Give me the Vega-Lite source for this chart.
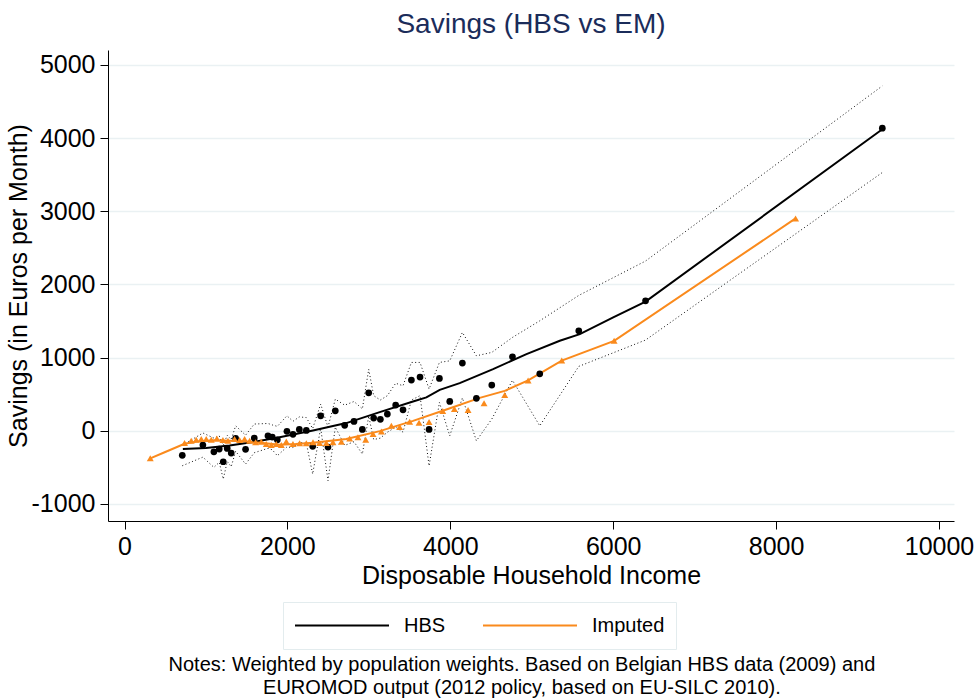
{
  "$schema": "https://vega.github.io/schema/vega-lite/v6.json",
  "background": "white",
  "padding": {"left": 6, "top": 11, "right": 0, "bottom": 0},
  "title": {
    "text": ["Notes: Weighted by population weights. Based on Belgian HBS data (2009) and", "EUROMOD output (2012 policy, based on EU-SILC 2010)."],
    "orient": "bottom",
    "anchor": "middle",
    "fontSize": 20,
    "fontWeight": "normal",
    "font": "Liberation Sans",
    "color": "black",
    "lineHeight": 23,
    "offset": 5,
    "dx": 32
  },
  "datasets": {
    "hbs": [
      {"x": 709, "y": -336, "lo": -478, "hi": -200},
      {"x": 962, "y": -195, "lo": -360, "hi": -30},
      {"x": 1097, "y": -287, "lo": -500, "hi": -100},
      {"x": 1163, "y": -250, "lo": -430, "hi": -70},
      {"x": 1212, "y": -423, "lo": -660, "hi": -200},
      {"x": 1261, "y": -241, "lo": -420, "hi": -60},
      {"x": 1310, "y": -305, "lo": -490, "hi": -120},
      {"x": 1364, "y": -104, "lo": -280, "hi": 68},
      {"x": 1486, "y": -254, "lo": -455, "hi": -60},
      {"x": 1593, "y": -100, "lo": -300, "hi": 92},
      {"x": 1761, "y": -68, "lo": -240, "hi": 100},
      {"x": 1814, "y": -86, "lo": -260, "hi": 80},
      {"x": 1876, "y": -123, "lo": -341, "hi": 60},
      {"x": 1994, "y": -8, "lo": -220, "hi": 205},
      {"x": 2068, "y": -49, "lo": -230, "hi": 130},
      {"x": 2146, "y": 19, "lo": -160, "hi": 190},
      {"x": 2232, "y": 5, "lo": -170, "hi": 180},
      {"x": 2310, "y": -213, "lo": -591, "hi": 30},
      {"x": 2408, "y": 205, "lo": 40, "hi": 365},
      {"x": 2498, "y": -223, "lo": -683, "hi": 50},
      {"x": 2588, "y": 273, "lo": 50, "hi": 433},
      {"x": 2703, "y": 74, "lo": -200, "hi": 350},
      {"x": 2817, "y": 128, "lo": -150, "hi": 400},
      {"x": 2920, "y": 19, "lo": -318, "hi": 300},
      {"x": 2998, "y": 519, "lo": 200, "hi": 840},
      {"x": 3059, "y": 173, "lo": -120, "hi": 480},
      {"x": 3141, "y": 156, "lo": -100, "hi": 420},
      {"x": 3227, "y": 228, "lo": -20, "hi": 480},
      {"x": 3329, "y": 351, "lo": 50, "hi": 650},
      {"x": 3419, "y": 287, "lo": -18, "hi": 615},
      {"x": 3522, "y": 693, "lo": 420, "hi": 934},
      {"x": 3628, "y": 734, "lo": 480, "hi": 934},
      {"x": 3739, "y": 19, "lo": -480, "hi": 570},
      {"x": 3866, "y": 716, "lo": 387, "hi": 934},
      {"x": 3993, "y": 401, "lo": -68, "hi": 956},
      {"x": 4148, "y": 925, "lo": 450, "hi": 1344},
      {"x": 4320, "y": 443, "lo": -137, "hi": 1025},
      {"x": 4509, "y": 625, "lo": 160, "hi": 1071},
      {"x": 4763, "y": 1011, "lo": 690, "hi": 1276},
      {"x": 5098, "y": 779, "lo": 68, "hi": 1503},
      {"x": 5577, "y": 1366, "lo": 880, "hi": 1850},
      {"x": 6397, "y": 1776, "lo": 1240, "hi": 2320},
      {"x": 9304, "y": 4135, "lo": 3530, "hi": 4713}
    ],
    "imp": [
      {"x": 316, "y": -377},
      {"x": 737, "y": -168},
      {"x": 819, "y": -137},
      {"x": 880, "y": -123},
      {"x": 942, "y": -113},
      {"x": 1003, "y": -113},
      {"x": 1065, "y": -123},
      {"x": 1134, "y": -104},
      {"x": 1208, "y": -127},
      {"x": 1270, "y": -137},
      {"x": 1351, "y": -113},
      {"x": 1413, "y": -127},
      {"x": 1474, "y": -113},
      {"x": 1536, "y": -137},
      {"x": 1609, "y": -158},
      {"x": 1679, "y": -150},
      {"x": 1740, "y": -182},
      {"x": 1802, "y": -195},
      {"x": 1863, "y": -182},
      {"x": 1925, "y": -195},
      {"x": 1986, "y": -145},
      {"x": 2068, "y": -182},
      {"x": 2150, "y": -172},
      {"x": 2232, "y": -172},
      {"x": 2314, "y": -158},
      {"x": 2396, "y": -168},
      {"x": 2478, "y": -168},
      {"x": 2559, "y": -158},
      {"x": 2662, "y": -150},
      {"x": 2764, "y": -104},
      {"x": 2866, "y": -90},
      {"x": 2961, "y": -123},
      {"x": 3051, "y": -45},
      {"x": 3154, "y": -10},
      {"x": 3276, "y": 68},
      {"x": 3378, "y": 50},
      {"x": 3501, "y": 123},
      {"x": 3616, "y": 110},
      {"x": 3739, "y": 120},
      {"x": 3907, "y": 271},
      {"x": 4050, "y": 296},
      {"x": 4218, "y": 283},
      {"x": 4414, "y": 376},
      {"x": 4668, "y": 490},
      {"x": 4955, "y": 688},
      {"x": 5368, "y": 960},
      {"x": 6011, "y": 1229},
      {"x": 8239, "y": 2902}
    ],
    "fit": [
      {"series": "HBS", "x": 716, "y": -250},
      {"series": "HBS", "x": 1000, "y": -235},
      {"series": "HBS", "x": 1290, "y": -200},
      {"series": "HBS", "x": 1600, "y": -150},
      {"series": "HBS", "x": 1904, "y": -88},
      {"series": "HBS", "x": 2314, "y": 5},
      {"series": "HBS", "x": 2723, "y": 105},
      {"series": "HBS", "x": 3133, "y": 255},
      {"series": "HBS", "x": 3542, "y": 400},
      {"series": "HBS", "x": 3706, "y": 456},
      {"series": "HBS", "x": 3870, "y": 560},
      {"series": "HBS", "x": 4115, "y": 652},
      {"series": "HBS", "x": 4525, "y": 843},
      {"series": "HBS", "x": 4935, "y": 1048},
      {"series": "HBS", "x": 5344, "y": 1230},
      {"series": "HBS", "x": 5590, "y": 1320},
      {"series": "HBS", "x": 6000, "y": 1549},
      {"series": "HBS", "x": 6397, "y": 1765},
      {"series": "HBS", "x": 9304, "y": 4121},
      {"series": "Imputed", "x": 316, "y": -377},
      {"series": "Imputed", "x": 500, "y": -290},
      {"series": "Imputed", "x": 737, "y": -178},
      {"series": "Imputed", "x": 900, "y": -145},
      {"series": "Imputed", "x": 1100, "y": -130},
      {"series": "Imputed", "x": 1300, "y": -135},
      {"series": "Imputed", "x": 1500, "y": -148},
      {"series": "Imputed", "x": 1700, "y": -168},
      {"series": "Imputed", "x": 1904, "y": -190},
      {"series": "Imputed", "x": 2100, "y": -182},
      {"series": "Imputed", "x": 2314, "y": -165},
      {"series": "Imputed", "x": 2723, "y": -113},
      {"series": "Imputed", "x": 3133, "y": -5},
      {"series": "Imputed", "x": 3542, "y": 135},
      {"series": "Imputed", "x": 3952, "y": 290},
      {"series": "Imputed", "x": 4361, "y": 450},
      {"series": "Imputed", "x": 4668, "y": 545},
      {"series": "Imputed", "x": 4955, "y": 690},
      {"series": "Imputed", "x": 5368, "y": 960},
      {"series": "Imputed", "x": 6011, "y": 1229},
      {"series": "Imputed", "x": 8239, "y": 2902}
    ]
  },
  "vconcat": [
    {
      "title": {
        "text": "Savings (HBS vs EM)",
        "fontSize": 28,
        "fontWeight": "normal",
        "font": "Liberation Sans",
        "color": "#1B2C5A",
        "anchor": "middle",
        "frame": "group",
        "offset": 11
      },
      "width": 846,
      "height": 471,
      "layer": [
        {
          "data": {"name": "hbs"},
          "mark": {"type": "line", "color": "#111111", "strokeWidth": 1, "strokeDash": [1, 2.5]},
          "encoding": {
            "x": {"field": "x", "type": "quantitative"},
            "y": {"field": "hi", "type": "quantitative"},
            "order": {"field": "x"}
          }
        },
        {
          "data": {"name": "hbs"},
          "mark": {"type": "line", "color": "#111111", "strokeWidth": 1, "strokeDash": [1, 2.5]},
          "encoding": {
            "x": {"field": "x", "type": "quantitative"},
            "y": {"field": "lo", "type": "quantitative"},
            "order": {"field": "x"}
          }
        },
        {
          "data": {"name": "fit"},
          "mark": {"type": "line", "strokeWidth": 2},
          "encoding": {
            "x": {"field": "x", "type": "quantitative"},
            "y": {"field": "y", "type": "quantitative"},
            "order": {"field": "x"},
            "color": {
              "field": "series",
              "type": "nominal",
              "scale": {"domain": ["HBS", "Imputed"], "range": ["#000000", "#FA8A1C"]},
              "legend": {
                "title": null,
                "orient": "none",
                "legendX": 175,
                "legendY": 552,
                "direction": "horizontal",
                "symbolType": "stroke",
                "symbolSize": 8836,
                "symbolStrokeWidth": 2,
                "clipHeight": 25,
                "labelFontSize": 20,
                "labelFont": "Liberation Sans",
                "labelColor": "black",
                "labelOffset": 14,
                "columnPadding": 36,
                "padding": 11,
                "strokeColor": "#E3ECEE",
                "fillColor": "white"
              }
            }
          }
        },
        {
          "data": {"name": "hbs"},
          "mark": {"type": "point", "shape": "circle", "filled": true, "color": "black", "size": 45, "opacity": 1},
          "encoding": {
            "x": {"field": "x", "type": "quantitative"},
            "y": {"field": "y", "type": "quantitative"}
          }
        },
        {
          "data": {"name": "imp"},
          "mark": {"type": "point", "shape": "triangle-up", "filled": true, "color": "#FA8A1C", "size": 48, "opacity": 1},
          "encoding": {
            "x": {
              "field": "x", "type": "quantitative",
              "scale": {"domain": [-203, 10184], "nice": false, "zero": false},
              "axis": {"title": "Disposable Household Income", "values": [0, 2000, 4000, 6000, 8000, 10000], "grid": false, "labelExpr": "'' + datum.value"}
            },
            "y": {
              "field": "y", "type": "quantitative",
              "scale": {"domain": [-1233, 5204], "nice": false, "zero": false},
              "axis": {"title": "Savings (in Euros per Month)", "values": [-1000, 0, 1000, 2000, 3000, 4000, 5000], "grid": true, "labelExpr": "datum.value < 0 ? '-' + abs(datum.value) : '' + datum.value"}
            }
          }
        }
      ]
    }
  ],
  "config": {
    "view": {"stroke": null},
    "font": "Liberation Sans",
    "axis": {
      "domainColor": "black",
      "domainWidth": 1,
      "tickColor": "black",
      "tickSize": 8,
      "tickWidth": 1,
      "labelFontSize": 25,
      "labelFont": "Liberation Sans",
      "labelColor": "black",
      "labelPadding": 5,
      "titleFontSize": 25,
      "titleFont": "Liberation Sans",
      "titleFontWeight": "normal",
      "titleColor": "black",
      "gridColor": "#EAF1F3",
      "gridWidth": 1.5,
      "labelFlush": false,
      "labelOverlap": false
    },
    "axisX": {"titlePadding": 4},
    "axisY": {"labelAngle": 0, "titlePadding": 0}
  }
}
